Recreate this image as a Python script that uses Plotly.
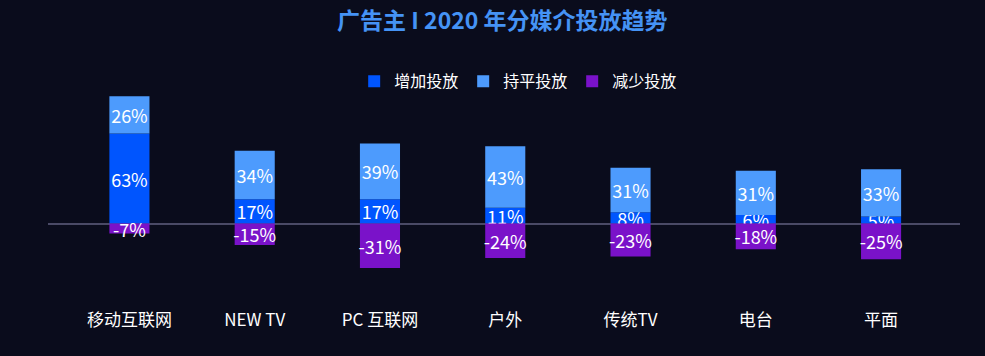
import plotly.graph_objects as go

categories = ["移动互联网", "NEW TV", "PC 互联网", "户外", "传统TV", "电台", "平面"]
increase = [63, 17, 17, 11, 8, 6, 5]
flat = [26, 34, 39, 43, 31, 31, 33]
decrease = [-7, -15, -31, -24, -23, -18, -25]

series = [
    ("增加投放", increase, "#0055fe"),
    ("持平投放", flat, "#4d9bfd"),
    ("减少投放", decrease, "#7a12c9"),
]

FONT = "Noto Sans CJK SC"

fig = go.Figure()
for name, vals, color in series:
    fig.add_trace(go.Bar(
        name=name,
        x=categories,
        y=vals,
        marker=dict(color=color, line=dict(width=0)),
        width=0.32,
        text=[f"{v}%" for v in vals],
        textposition="inside",
        insidetextanchor="middle",
        constraintext="none",
        textangle=0,
        textfont=dict(color="white", size=18, family=FONT),
        cliponaxis=False,
    ))

fig.update_layout(
    width=985, height=356,
    barmode="relative",
    paper_bgcolor="#0a0c1c",
    plot_bgcolor="rgba(0,0,0,0)",
    margin=dict(l=48, r=25, t=90, b=48),
    title=dict(
        text="<b>广告主 I 2020 年分媒介投放趋势</b>",
        x=0.51, xanchor="center", y=0.94, yanchor="middle",
        font=dict(family=FONT, size=23, color="#4593f5"),
    ),
    legend=dict(
        orientation="h", x=0.515, xanchor="center", y=1.04, yanchor="middle",
        font=dict(family=FONT, size=16, color="white"),
        bgcolor="rgba(0,0,0,0)", traceorder="normal",
        itemwidth=30, entrywidth=64, entrywidthmode="pixels",
    ),
    xaxis=dict(
        range=[-0.65, 6.63],
        showgrid=False, zeroline=False, showline=False,
        ticks="", tickfont=dict(family=FONT, size=17, color="white"),
    ),
    yaxis=dict(
        range=[-59, 93.4],
        showgrid=False, showticklabels=False, ticks="",
        zeroline=True, zerolinecolor="#4a4a66", zerolinewidth=1.5,
        showline=False,
    ),
    showlegend=True,
)

fig.write_html(
    "out.html",
    config={"displayModeBar": False},
    post_script="document.body.style.margin='0';document.body.style.background='#0a0c1c';",
)
